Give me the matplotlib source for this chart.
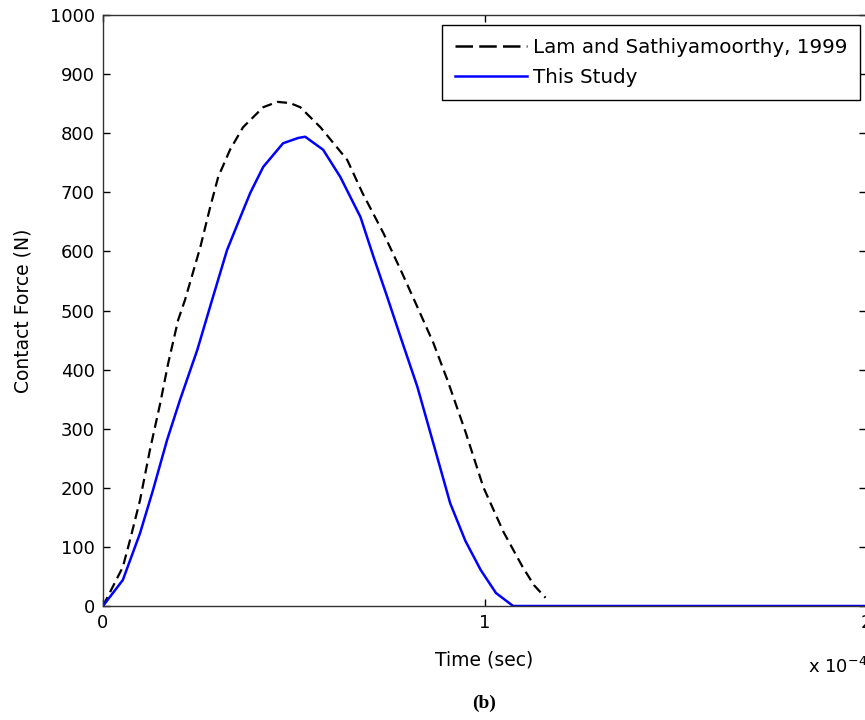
import matplotlib
matplotlib.use("Agg")
import matplotlib.pyplot as plt
import numpy as np

# Time in units of 1e-4 s, force in N
lam_t = [0.0, 0.052, 0.071, 0.097, 0.123, 0.15, 0.171, 0.197, 0.215, 0.255, 0.281, 0.302, 0.333, 0.367,
         0.42, 0.457, 0.49, 0.517, 0.57, 0.64, 0.68, 0.735, 0.78, 0.824, 0.866, 0.903, 0.95, 0.997,
         1.05, 1.10, 1.13, 1.16]
lam_f = [0, 66, 112, 179, 264, 343, 411, 484, 518, 607, 675, 726, 772, 810,
         844, 853, 851, 844, 810, 755, 699, 631, 569, 506, 445, 382, 295, 201,
         125, 66, 35, 14]

study_t = [0.0, 0.052, 0.097, 0.131, 0.168, 0.202, 0.247, 0.286, 0.325, 0.36, 0.386, 0.42, 0.472, 0.512,
           0.53, 0.577, 0.622, 0.675, 0.709, 0.745, 0.78, 0.824, 0.866, 0.91, 0.95, 0.99, 1.03, 1.075, 2.0]
study_f = [0, 44, 123, 196, 281, 349, 433, 518, 602, 658, 699, 743, 783, 792,
           794, 772, 726, 658, 591, 523, 455, 371, 275, 174, 110, 61, 22, 0, 0]

legend_labels = ["Lam and Sathiyamoorthy, 1999", "This Study"]
x_ticks = [0, 1, 2]
y_ticks = [0, 100, 200, 300, 400, 500, 600, 700, 800, 900, 1000]

plt.rcParams['font.family'] = ['DejaVu Sans']
fig = plt.figure(figsize=(8.65, 7.2), dpi=100)
W, H = 865, 720
left, right, top, bottom = 103, 866, 15, 606
ax = fig.add_axes([left / W, 1 - bottom / H, (right - left) / W, (bottom - top) / H])

scale = 1e-4
ax.plot(np.array(lam_t) * scale, lam_f, color='black', linestyle=(0, (4.5, 2.5)), linewidth=1.6)
ax.plot(np.array(study_t) * scale, study_f, color='blue', linewidth=1.8)

# legend proxies (dash pattern as drawn in the legend of the original)
h1, = ax.plot([], [], color='black', linestyle=(0, (7, 2.5)), linewidth=1.8, label=legend_labels[0])
h2, = ax.plot([], [], color='blue', linewidth=1.8, label=legend_labels[1])

ax.set_xlim(0, 2 * scale)
ax.set_ylim(0, 1000)
ax.set_xticks(np.array(x_ticks) * scale)
ax.set_xticklabels([str(v) for v in x_ticks])
ax.set_yticks(y_ticks)
ax.set_yticklabels([str(v) for v in y_ticks])
ax.tick_params(direction='in', length=5, width=1, labelsize=13, top=True, right=True, pad=6)
for s in ax.spines.values():
    s.set_linewidth(1)
    s.set_color('#333333')

ax.set_xlabel("Time (sec)", fontsize=13.5, labelpad=13)
ax.set_ylabel("Contact Force (N)", fontsize=13.5, labelpad=12)

leg = ax.legend(handles=[h1, h2], loc='upper right', bbox_to_anchor=((860 - left) / (right - left), (bottom - 25) / (bottom - top)),
                borderaxespad=0, fontsize=14.3, frameon=True, fancybox=False,
                edgecolor='black', framealpha=1, handlelength=3.6, handletextpad=0.3, borderpad=0.65,
                labelspacing=0.55)
leg.get_frame().set_linewidth(1)

fig.text(808 / W, 1 - 667 / H, r"x 10$^{-4}$", fontsize=13, ha='left', va='center')
fig.text(484 / W, 1 - 703 / H, "(b)", fontsize=14, fontweight='bold', family='Liberation Serif',
         ha='center', va='center')

fig.savefig("out.png", dpi=100)
